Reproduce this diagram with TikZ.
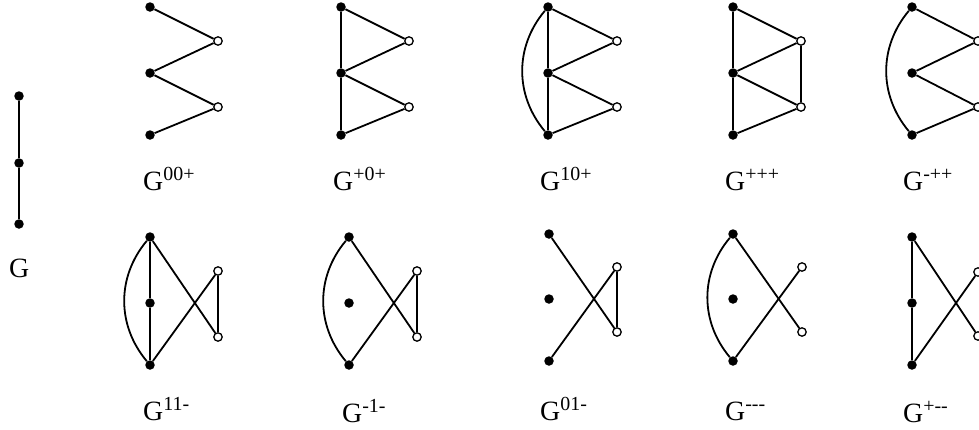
\documentclass[tikz,border=0pt]{standalone}
\usepackage{fontspec}
\setmainfont{Liberation Serif}
\newcommand{\gsup}[1]{\raisebox{10bp}{\fontsize{20}{22}\selectfont #1}}
\newcommand{\gnodes}[8]{%
  \node[fv] (#1a) at (#2,#4) {};
  \node[fv] (#1b) at (#2,#5) {};
  \node[fv] (#1c) at (#2,#6) {};
  \node[ov] (#1p) at (#3,#7) {};
  \node[ov] (#1q) at (#3,#8) {};
}
\newcommand{\ezig}[1]{\draw[gedge] (#1a) -- (#1p) -- (#1b) -- (#1q) -- (#1c);}
\newcommand{\evert}[1]{\draw[gedge] (#1a) -- (#1b) -- (#1c);}
\newcommand{\earc}[1]{\draw[gedge] (#1a) to[bend right=40] (#1c);}
\newcommand{\err}[1]{\draw[gedge] (#1p) -- (#1q);}
\newcommand{\ecross}[1]{\draw[gedge] (#1a) -- (#1q); \draw[gedge] (#1c) -- (#1p);}
\begin{document}
\begin{tikzpicture}[x=1bp,y=-1bp,
  fv/.style={circle, fill=black, inner sep=0pt, minimum size=9.5bp},
  ov/.style={circle, draw=black, fill=white, line width=1.3bp, inner sep=0pt, minimum size=8.4bp},
  gedge/.style={line width=1.8bp},
  lab/.style={anchor=base west, inner sep=0pt, font=\fontsize{28}{30}\selectfont}]
\useasboundingbox (0,0) rectangle (979,429);
% G
\node[fv] (g1) at (19,96) {};
\node[fv] (g2) at (19,163) {};
\node[fv] (g3) at (19,224) {};
\draw[gedge] (g1) -- (g2) -- (g3);
\node[lab] (lG) at (9,277) {G};
% row 1
\gnodes{A}{150}{218}{7}{73}{135}{41}{107}
\ezig{A}
\node[lab] (lA) at (143,190) {G\gsup{00+}};
\gnodes{B}{341}{409}{7}{73}{135}{41}{107}
\ezig{B}\evert{B}
\node[lab] (lB) at (333,190) {G\gsup{+0+}};
\gnodes{C}{548}{617}{7}{73}{135}{41}{107}
\ezig{C}\evert{C}\earc{C}
\node[lab] (lC) at (540,190) {G\gsup{10+}};
\gnodes{D}{733}{801}{7}{73}{135}{41}{107}
\ezig{D}\evert{D}\err{D}
\node[lab] (lD) at (725,190) {G\gsup{+++}};
\gnodes{E}{912}{978}{7}{73}{135}{41}{107}
\ezig{E}\earc{E}
\node[lab] (lE) at (903,190) {G\gsup{-{}++}};
% row 2
\gnodes{F}{150}{218}{237}{303}{365}{271}{337}
\evert{F}\earc{F}\ecross{F}\err{F}
\node[lab] (lF) at (143,420) {G\gsup{11-}};
\gnodes{H}{349}{417}{237}{303}{365}{271}{337}
\earc{H}\ecross{H}\err{H}
\node[lab] (lH) at (342,422) {G\gsup{-{}1-}};
\gnodes{I}{549}{617}{234}{299}{361}{267}{332}
\ecross{I}\err{I}
\node[lab] (lI) at (540,420) {G\gsup{01-}};
\gnodes{J}{733}{802}{234}{299}{361}{267}{332}
\earc{J}\ecross{J}
\node[lab] (lJ) at (725,420) {G\gsup{-{}-{}-}};
\gnodes{K}{912}{978}{237}{303}{365}{272}{336}
\evert{K}\ecross{K}
\node[lab] (lK) at (903,422) {G\gsup{+-{}-}};
\end{tikzpicture}
\end{document}
